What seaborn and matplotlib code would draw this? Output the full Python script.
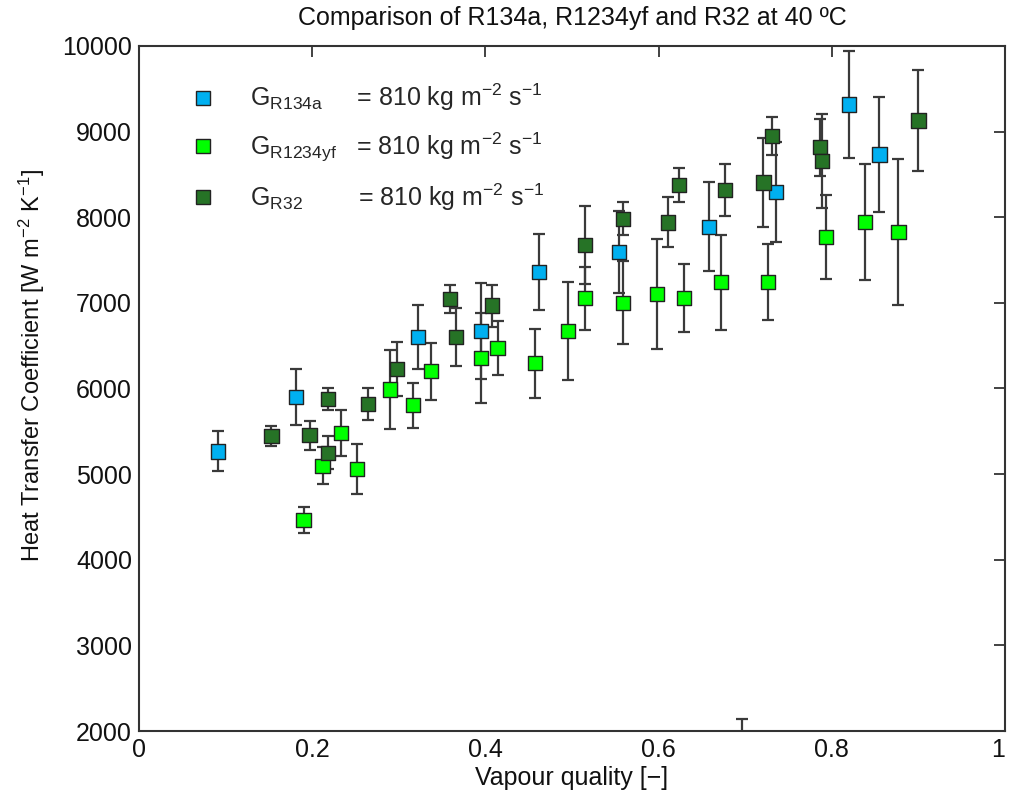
import numpy as np
import pandas as pd
import matplotlib
matplotlib.use("Agg")
import matplotlib.pyplot as plt
import seaborn as sns

# ---- data ----
x_r134a = [0.091, 0.181, 0.322, 0.395, 0.462, 0.554, 0.658, 0.736, 0.820, 0.855]
y_r134a = [5265, 5902, 6600, 6673, 7362, 7592, 7889, 8297, 9316, 8732]
e_r134a = [234, 324, 372, 562, 442, 480, 517, 587, 628, 674]

x_r1234yf = [0.190, 0.212, 0.233, 0.252, 0.290, 0.316, 0.337, 0.395, 0.414, 0.457,
             0.495, 0.515, 0.559, 0.598, 0.629, 0.672, 0.726, 0.793, 0.838, 0.877, 0.696]
y_r1234yf = [4465, 5099, 5481, 5061, 5987, 5804, 6203, 6355, 6474, 6295,
             6673, 7055, 7002, 7105, 7058, 7241, 7241, 7768, 7943, 7825, 1700]
e_r1234yf = [152, 220, 272, 288, 463, 265, 334, 525, 318, 403,
             574, 368, 486, 642, 399, 556, 444, 489, 677, 853, 440]

x_r32 = [0.153, 0.197, 0.218, 0.218, 0.264, 0.298, 0.359, 0.366, 0.408, 0.515,
         0.559, 0.611, 0.624, 0.677, 0.721, 0.731, 0.786, 0.789, 0.900]
y_r32 = [5446, 5453, 5875, 5250, 5820, 6226, 7047, 6600, 6969, 7676,
         7983, 7940, 8379, 8320, 8405, 8949, 8816, 8659, 9130]
e_r32 = [119, 167, 127, 190, 185, 313, 162, 340, 245, 453,
         194, 292, 202, 306, 524, 222, 335, 551, 593]

labels = [r'$\mathregular{G_{R134a}}$     = 810 kg m$^{\mathregular{-2}}$ s$^{\mathregular{-1}}$',
          r'$\mathregular{G_{R1234yf}}$   = 810 kg m$^{\mathregular{-2}}$ s$^{\mathregular{-1}}$',
          r'$\mathregular{G_{R32}}$        = 810 kg m$^{\mathregular{-2}}$ s$^{\mathregular{-1}}$']
colors = ['#00B0F0', '#00FF00', '#267326']

xticks = [0, 0.2, 0.4, 0.6, 0.8, 1]
xticklabels = ['0', '0.2', '0.4', '0.6', '0.8', '1']
yticks = [2000, 3000, 4000, 5000, 6000, 7000, 8000, 9000, 10000]

# ---- build table ----
frames = []
for xs, ys, es, lab in [(x_r134a, y_r134a, e_r134a, labels[0]),
                        (x_r1234yf, y_r1234yf, e_r1234yf, labels[1]),
                        (x_r32, y_r32, e_r32, labels[2])]:
    frames.append(pd.DataFrame({'x': xs, 'y': ys, 'err': es, 'series': lab}))
df = pd.concat(frames, ignore_index=True)

sns.set_theme(style='white')
plt.rcParams['font.family'] = ['Liberation Sans', 'DejaVu Sans']
plt.rcParams['mathtext.fontset'] = 'custom'
plt.rcParams['mathtext.rm'] = 'Liberation Sans'
plt.rcParams['mathtext.default'] = 'regular'

fig = plt.figure(figsize=(10.09, 8.05), dpi=100)
ax = fig.add_axes([139/1009, 1-731/805, (1005-139)/1009, (731-46)/805])

for lab in labels:
    sub = df[df['series'] == lab]
    ax.errorbar(sub['x'], sub['y'], yerr=sub['err'], fmt='none',
                ecolor='#3a3a3a', elinewidth=1.6, capsize=4.5, capthick=1.6, zorder=2)

sns.scatterplot(data=df, x='x', y='y', hue='series', hue_order=labels,
                palette=colors, marker='s', s=105, edgecolor='#222222',
                linewidth=1.0, ax=ax, zorder=3, legend=True)

ax.set_xlim(0, 1)
ax.set_ylim(2000, 10000)
ax.set_xticks(xticks)
ax.set_xticklabels(xticklabels)
ax.set_yticks(yticks)
ax.tick_params(direction='in', length=8, width=1.2, top=True, right=True,
               labelsize=18, colors='#222222', pad=5)
ax.tick_params(axis='x', labelcolor='#111111')
ax.tick_params(axis='y', labelcolor='#111111')
ax.get_xticklabels()[-1].set_horizontalalignment('right')
for sp in ax.spines.values():
    sp.set_color('#333333')
    sp.set_linewidth(1.5)

ax.set_xlabel('Vapour quality [\u2212]', fontsize=18, color='#111111', labelpad=3)
ax.set_ylabel(r'Heat Transfer Coefficient [W m$^{\mathregular{-2}}$ K$^{\mathregular{-1}}$]',
              fontsize=17, color='#111111')
ax.yaxis.set_label_coords(-0.106, 0.533)
ax.set_title('Comparison of R134a, R1234yf and R32 at 40 \u00baC', fontsize=18,
             color='#111111', pad=15)

leg = ax.legend(loc='upper left', bbox_to_anchor=(0.033, 0.962), frameon=False,
                fontsize=18, handletextpad=0.9, labelspacing=0.7, markerscale=1.0,
                borderaxespad=0)

fig.savefig('out.png', dpi=100)
